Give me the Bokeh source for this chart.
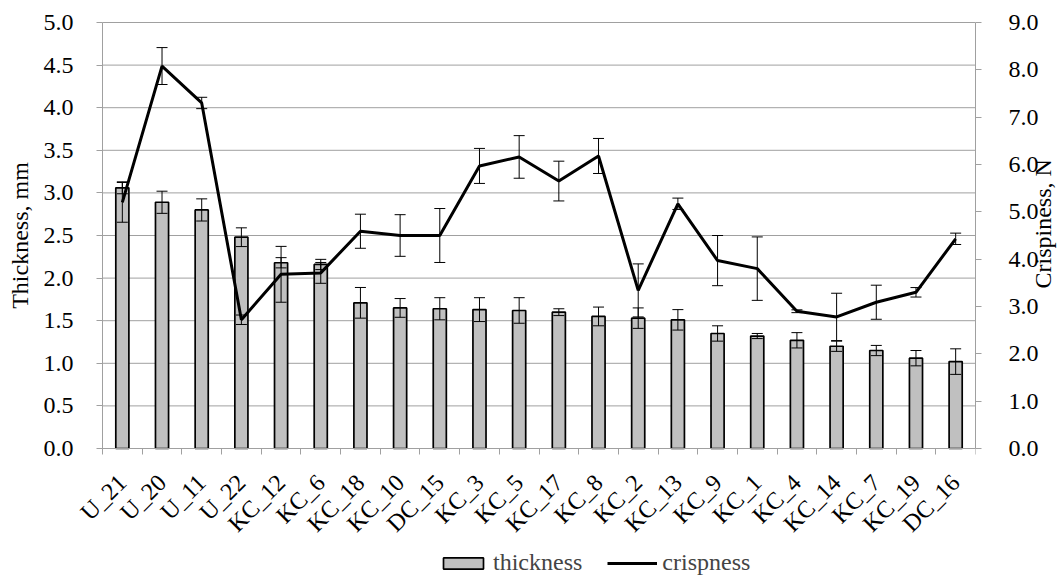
import math
from bokeh.plotting import figure
from bokeh.models import (Range1d, LinearAxis, FixedTicker, Whisker, TeeHead,
                          ColumnDataSource, Legend, LegendItem, NumeralTickFormatter)
from bokeh.embed import file_html
from bokeh.resources import INLINE

names = ["U_21", "U_20", "U_11", "U_22", "KC_12", "KC_6", "KC_18", "KC_10", "DC_15",
         "KC_3", "KC_5", "KC_17", "KC_8", "KC_2", "KC_13", "KC_9", "KC_1", "KC_4",
         "KC_14", "KC_7", "KC_19", "DC_16"]
thickness = [3.06, 2.89, 2.80, 2.48, 2.18, 2.16, 1.71, 1.65, 1.64, 1.63, 1.62, 1.60,
             1.55, 1.53, 1.51, 1.35, 1.32, 1.27, 1.20, 1.15, 1.06, 1.02]
thickness_err = [0.07, 0.13, 0.13, 0.11, 0.06, 0.06, 0.18, 0.11, 0.13, 0.14, 0.15, 0.04,
                 0.11, 0.12, 0.12, 0.09, 0.03, 0.09, 0.06, 0.06, 0.09, 0.15]
crispness = [5.20, 8.08, 7.30, 2.72, 3.68, 3.71, 4.59, 4.50, 4.50, 5.97, 6.16, 5.65,
             6.18, 3.34, 5.17, 3.97, 3.80, 2.90, 2.78, 3.09, 3.30, 4.43]
crispness_err = [0.42, 0.39, 0.12, 0.10, 0.59, 0.22, 0.36, 0.44, 0.57, 0.37, 0.45, 0.42,
                 0.37, 0.56, 0.12, 0.53, 0.67, 0.03, 0.50, 0.36, 0.10, 0.12]

left_ticks = [0, 0.5, 1, 1.5, 2, 2.5, 3, 3.5, 4, 4.5, 5]
right_ticks = [0, 1, 2, 3, 4, 5, 6, 7, 8, 9]
left_max, right_max = 5, 9

FONT = "Liberation Serif"
FS = "24px"
GRAY = "#a0a0a0"

# pixel layout: the plotting area is 873 x 426 px with its left edge 102 px and its
# top 22 px from the page corner; the frame covers the whole left/top/bottom so that
# tick labels, axis titles and the legend lie inside the drawable area
PLOT_W, PLOT_H = 873, 426
LEFT_PAD, TOP_PAD = 102, 22
CANVAS_H = 576
BOTTOM_PAD = CANVAS_H - TOP_PAD - PLOT_H
n = len(names)
unit_px = PLOT_W / n
x_lo = -0.5 - LEFT_PAD / unit_px
px_l = PLOT_H / left_max
px_r = PLOT_H / right_max

xs = list(range(n))
src = ColumnDataSource(dict(
    x=xs, t=thickness,
    t_up=[t + e for t, e in zip(thickness, thickness_err)],
    t_lo=[t - e for t, e in zip(thickness, thickness_err)],
    c=crispness,
    c_up=[c + e for c, e in zip(crispness, crispness_err)],
    c_lo=[c - e for c, e in zip(crispness, crispness_err)],
))
grid_src = ColumnDataSource(dict(x0=[-0.5] * len(left_ticks), x1=[n - 0.5] * len(left_ticks),
                                 y=left_ticks))

p = figure(frame_width=PLOT_W + LEFT_PAD, frame_height=CANVAS_H,
           x_range=Range1d(x_lo, n - 0.5),
           y_range=Range1d(-BOTTOM_PAD / px_l, left_max + TOP_PAD / px_l),
           output_backend="svg", toolbar_location=None,
           min_border_left=0, min_border_right=88, min_border_top=0,
           min_border_bottom=0, background_fill_color="white")
p.extra_y_ranges = {"right": Range1d(-BOTTOM_PAD / px_r, right_max + TOP_PAD / px_r)}
p.outline_line_color = None
p.xgrid.visible = False
p.ygrid.visible = False

# horizontal gridlines at the thickness ticks
p.segment(x0="x0", x1="x1", y0="y", y1="y", line_color=GRAY, line_width=1, source=grid_src)

bars = p.vbar(x="x", top="t", width=0.33, fill_color="#c0c0c0", line_color="black",
              line_width=1.7, source=src)
line = p.line(x="x", y="c", line_color="black", line_width=3, source=src,
              y_range_name="right")

wt = Whisker(base="x", upper="t_up", lower="t_lo", source=src, line_color="black",
             line_width=1, level="overlay",
             upper_head=TeeHead(size=11, line_color="black", line_width=1),
             lower_head=TeeHead(size=11, line_color="black", line_width=1))
wc = Whisker(base="x", upper="c_up", lower="c_lo", source=src, line_color="black",
             line_width=1, level="overlay", y_range_name="right",
             upper_head=TeeHead(size=11, line_color="black", line_width=1),
             lower_head=TeeHead(size=11, line_color="black", line_width=1))
p.add_layout(wt)
p.add_layout(wc)

# left axis, drawn at the left edge of the first category
ya = p.yaxis[0]
ya.fixed_location = -0.5
ya.ticker = FixedTicker(ticks=left_ticks)
ya.formatter = NumeralTickFormatter(format="0.0")
ya.bounds = (0, left_max)
ya.axis_label = "Thickness, mm"
ya.axis_label_standoff = 8
ya.major_label_standoff = 23

# right axis
ry = LinearAxis(y_range_name="right", ticker=FixedTicker(ticks=right_ticks),
                formatter=NumeralTickFormatter(format="0.0"), axis_label="Crispiness, N")
ry.bounds = (0, right_max)
ry.axis_label_standoff = 1
ry.major_label_standoff = 27
try:
    ry.axis_label_orientation = math.pi / 2
except AttributeError:
    pass
p.add_layout(ry, "right")

# bottom axis, drawn at thickness = 0
xa = p.xaxis[0]
xa.fixed_location = 0
xa.bounds = (-0.5, n - 0.5)
xa.ticker = FixedTicker(ticks=xs, minor_ticks=[i - 0.5 for i in range(n + 1)])
xa.major_label_overrides = {i: nm for i, nm in zip(xs, names)}
xa.major_label_orientation = math.pi / 4
xa.major_label_standoff = 24
xa.major_tick_out = 0
xa.major_tick_in = 0
xa.minor_tick_out = 6
xa.minor_tick_in = 0
xa.minor_tick_line_color = GRAY

for ax in (ya, ry):
    ax.major_tick_out = 6
    ax.major_tick_in = 0
    ax.minor_tick_line_color = None
    ax.major_tick_line_color = GRAY
for ax in (xa, ya, ry):
    ax.axis_line_color = GRAY
    ax.major_label_text_font = FONT
    ax.major_label_text_font_size = FS
    ax.major_label_text_color = "black"
    ax.axis_label_text_font = FONT
    ax.axis_label_text_font_size = FS
    ax.axis_label_text_font_style = "normal"
    ax.axis_label_text_color = "black"

legend = Legend(items=[LegendItem(label="thickness", renderers=[bars]),
                       LegendItem(label="crispness", renderers=[line])],
                orientation="horizontal", location=(LEFT_PAD + 336, 0),
                border_line_color=None, background_fill_alpha=0,
                label_text_font=FONT, label_text_font_size=FS,
                glyph_width=50, glyph_height=14, spacing=25, label_standoff=5,
                padding=0, margin=0)
p.add_layout(legend, "center")

open("out.html", "w").write(file_html(p, INLINE))
